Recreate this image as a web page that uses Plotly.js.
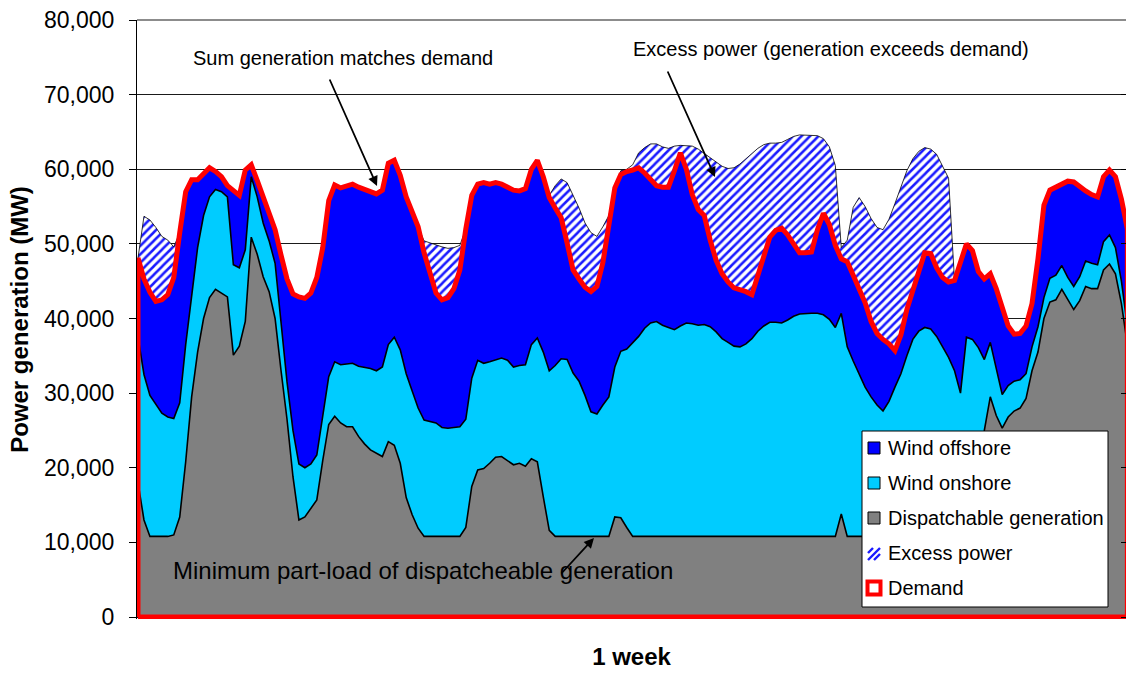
<!DOCTYPE html>
<html><head><meta charset="utf-8">
<script src="https://cdn.plot.ly/plotly-3.0.1.min.js"></script>
<style>html,body{margin:0;padding:0;background:#fff;} #chart{width:1126px;height:674px;}</style>
</head><body><div id="chart"></div>
<script>
// hourly time steps over one week (categories)
const hours = Array.from({length: 167}, (_, i) => i);

const dispatchable = [
18000,13000,10800,10800,10800,10800,11000,13400,20800,29500,
35500,40000,42800,43900,43400,42900,35100,36300,39600,50900,
48600,45600,43600,40000,33000,26500,18800,13000,13400,14500,
15700,21000,25800,26900,26000,25500,25500,24200,23200,22400,
21900,21500,23500,23000,20600,16000,13700,11900,10800,10800,
10800,10800,10800,10800,10800,12000,17500,19700,19900,20600,
21400,21500,20900,20400,20600,20200,21200,20800,16100,11600,
10800,10800,10800,10800,10800,10800,10800,10800,10800,10800,
13400,13300,12000,10800,10800,10800,10800,10800,10800,10800,
10800,10800,10800,10800,10800,10800,10800,10800,10800,10800,
10800,10800,10800,10800,10800,10800,10800,10800,10800,10800,
10800,10800,10800,10800,10800,10800,10800,10800,13800,10800,
10800,10800,10800,10800,10800,10800,10800,10800,10800,10800,
10800,10800,10800,10800,10800,10800,10800,14000,17000,19500,
21500,23000,25000,29500,27000,25300,26800,27600,28000,29300,
33000,35500,40000,42200,42500,43900,42500,41200,42400,44300,
44000,44000,46500,47300,46000,42000,36500];

const windOnshore = [
19500,19500,18900,17700,16500,16000,15600,15300,15700,13500,
14000,13800,13500,13400,13600,13400,12100,10500,9600,8100,
7700,7200,6800,7400,6000,5000,6200,7500,6600,6000,
6000,5800,6400,7300,7800,8400,8500,9400,10300,10900,
11100,12000,13000,14500,15200,16600,16600,16100,15600,15400,
15200,14600,14500,14600,14700,14500,14500,14700,14100,13600,
13100,13200,13500,13100,13100,13600,15300,16600,19400,21400,
22900,23800,23700,21900,20800,18900,16700,16400,17600,18700,
20100,22300,23900,25900,26800,27900,28600,28800,28300,28000,
27700,28200,28600,28500,28300,28400,28100,27400,26500,26000,
25500,25400,25800,26500,27500,28200,28700,28700,28600,29000,
29500,29800,29900,29900,29900,29700,29100,28000,26900,25400,
23500,21800,20000,18700,17600,16800,18100,20000,21800,24200,
26400,27500,28000,27800,26800,25400,24000,19000,13000,18000,
15700,13100,9500,7300,6500,4500,4200,4000,3800,3300,
3200,3400,2800,3200,3300,3200,3000,3100,3200,3400,
3400,3200,3800,3900,3500,3000,2500];

const windOffshore = [
10600,12800,13800,13800,15200,16400,18900,22800,20500,15600,
9100,5600,3900,2400,2000,1500,9900,9700,10700,1600,
2200,3400,3600,4500,9500,13800,18300,22400,22700,22900,
23800,22700,23600,23700,23700,23900,24000,24000,23800,23700,
23700,23700,24300,23700,23400,23700,23900,24300,22400,19600,
17400,17100,17500,18600,21000,25500,24500,23600,24200,23800,
23700,23300,23200,23700,23400,23600,23500,23800,23500,23200,
21100,18900,15600,13800,13700,14500,16100,17100,19100,23300,
24000,23700,23800,23200,22600,20800,19200,18200,18500,18800,
21300,23200,20600,17300,15500,14600,11600,9600,8700,8100,
7800,7700,7000,5900,7600,9300,11400,12300,12700,11400,
9700,8200,8100,8200,11200,13600,12700,11000,7300,11400,
11500,11300,11300,10100,9600,9600,7700,4900,5200,6200,
6600,8100,10000,10100,9200,9300,10100,12100,17500,12500,
11900,10200,10800,9200,10500,11400,8000,6300,6200,6400,
5800,9100,12400,11800,11800,10900,12900,14000,12000,9400,
9200,9100,8700,8700,9500,11000,13000];

const excessPower = [
0,8400,9700,9900,8500,7300,4100,0,0,0,
0,0,0,0,0,0,0,0,0,0,
0,0,0,0,0,0,0,0,0,0,
0,0,0,0,0,0,0,0,0,0,
0,0,0,0,0,0,0,0,1600,4300,
6400,7100,6600,5500,3300,0,0,0,0,0,
0,0,0,0,0,0,0,0,0,300,
3000,5200,8100,10000,9500,8600,7900,6700,4800,1000,
0,500,300,700,2000,3400,4800,5600,5400,5200,
3300,1000,3200,6500,8100,8300,11100,13100,14400,15200,
16100,16800,17800,18900,16900,15000,12600,11700,11500,12800,
14400,15800,15800,15700,12600,10000,10400,10700,1500,2900,
9100,12300,12900,13800,14200,14700,16700,19700,19800,18600,
17600,16000,14100,14000,15200,14800,13900,0,0,0,
0,0,0,0,0,0,0,0,0,0,
0,0,0,0,0,0,0,0,0,0,
0,0,0,0,0,0,0];

const demand = [
48100,45300,43500,42300,42500,43200,45500,51500,57000,58600,
58600,59400,60200,59700,59000,57800,57100,56500,59900,60600,
58500,56200,54000,51900,48500,45300,43300,42900,42700,43400,
45500,49500,55800,57900,57500,57800,58000,57600,57300,57000,
56700,57200,60800,61200,59200,56300,54200,52300,48800,45800,
43400,42500,42800,44000,46500,52000,56500,58000,58200,58000,
58200,58000,57600,57200,57100,57400,60000,61200,59000,56200,
54800,53500,50100,46500,45300,44200,43600,44300,47500,52800,
57500,59300,59700,59900,60200,59500,58600,57800,57600,57600,
59800,62200,60000,56600,54600,53800,50500,47800,46000,44900,
44100,43900,43600,43200,45900,48300,50900,51800,52100,51200,
50000,48800,48800,48900,51900,54100,52600,49800,48000,47600,
45800,43900,42100,39600,38000,37200,36600,35700,37800,41200,
43800,46400,48800,48700,46800,45500,44900,45100,47500,50000,
49100,46300,45300,46000,44000,41200,39000,37900,38000,39000,
42000,48000,55200,57200,57600,58000,58400,58300,57600,57100,
56600,56300,59000,59900,59000,56000,52000];

const yTicks = [0,10000,20000,30000,40000,50000,60000,70000,80000];

const legendItems = ['Wind offshore','Wind onshore','Dispatchable generation','Excess power','Demand'];
const COL = {off:'#0000ff', on:'#00ccff', disp:'#808080', demand:'#ff0000'};

const FONT = 'Liberation Sans, Arial, Helvetica, sans-serif';
const W = 1126, H = 674, ML = 137, MR = 0, MT = 20, MB = 55;
const PW = W - ML - MR, PH = H - MT - MB;
const px = x => (x - ML) / PW;
const py = y => (H - MB - y) / PH;

const lastH = hours[hours.length - 1];

const traces = [
  {name:'Dispatchable generation', x:hours, y:dispatchable, type:'scatter', mode:'lines',
   stackgroup:'gen', fillcolor:COL.disp, line:{color:'#000', width:1.6}, hoverinfo:'skip'},
  {name:'Wind onshore', x:hours, y:windOnshore, type:'scatter', mode:'lines',
   stackgroup:'gen', fillcolor:COL.on, line:{color:'#000', width:1.6}, hoverinfo:'skip'},
  {name:'Wind offshore', x:hours, y:windOffshore, type:'scatter', mode:'lines',
   stackgroup:'gen', fillcolor:COL.off, line:{color:'#000', width:1.2}, hoverinfo:'skip'},
  {name:'Excess power', x:hours, y:excessPower, type:'scatter', mode:'lines',
   stackgroup:'gen', fillcolor:'#ffffff',
   fillpattern:{shape:'/', fgcolor:'#1a1aff', bgcolor:'#ffffff', size:6, solidity:0.42},
   line:{color:'#000', width:0.8}, hoverinfo:'skip'},
  {name:'Demand', x:[0].concat(hours, [lastH, 0]), y:[0].concat(demand, [0, 0]),
   type:'scatter', mode:'lines', yaxis:'y2',
   line:{color:COL.demand, width:5}, hoverinfo:'skip'}
];

const shapes = [];
const annotations = [];

// top border of plot area
shapes.push({type:'line', xref:'paper', yref:'paper', x0:0, x1:1, y0:1, y1:1,
  line:{color:'#8c8c8c', width:2}, layer:'above'});

// legend box
shapes.push({type:'rect', xref:'paper', yref:'paper', x0:px(862), x1:px(1108), y0:py(607), y1:py(431),
  fillcolor:'#ffffff', line:{color:'#000', width:1}, layer:'above'});
const rowY = [448, 483, 518, 553, 588];
const swFill = [COL.off, COL.on, COL.disp];
for (let i = 0; i < 3; i++) {
  shapes.push({type:'rect', xref:'paper', yref:'paper', x0:px(868), x1:px(880),
    y0:py(rowY[i] + 6), y1:py(rowY[i] - 6), fillcolor:swFill[i],
    line:{color:'#000', width:1}, layer:'above'});
}
// hatched swatch
[[868,553,873,548],[868,560,880,548],[874,560,880,554]].forEach(s => {
  shapes.push({type:'line', xref:'paper', yref:'paper', x0:px(s[0]), y0:py(s[1]), x1:px(s[2]), y1:py(s[3]),
    line:{color:'#1a1aff', width:2.4}, layer:'above'});
});
// demand swatch
shapes.push({type:'rect', xref:'paper', yref:'paper', x0:px(867.5), x1:px(880.5), y0:py(594.5), y1:py(581.5),
  fillcolor:'#ffffff', line:{color:COL.demand, width:4}, layer:'above'});

legendItems.forEach((t, i) => {
  annotations.push({xref:'paper', yref:'paper', x:px(886), y:py(rowY[i]), xanchor:'left', yanchor:'middle',
    text:t, showarrow:false, font:{family:FONT, size:20, color:'#000'}});
});

// callout texts
annotations.push({xref:'paper', yref:'paper', x:px(343), y:py(58), xanchor:'center', yanchor:'middle',
  text:'Sum generation matches demand', showarrow:false, font:{family:FONT, size:20, color:'#000'}});
annotations.push({xref:'paper', yref:'paper', x:px(831), y:py(49), xanchor:'center', yanchor:'middle',
  text:'Excess power (generation exceeds demand)', showarrow:false, font:{family:FONT, size:20, color:'#000'}});
annotations.push({xref:'paper', yref:'paper', x:px(423), y:py(570), xanchor:'center', yanchor:'middle',
  text:'Minimum part-load of dispatcheable generation', showarrow:false, font:{family:FONT, size:24, color:'#000'}});

// arrows
[[377,186,-48,-108],[715,177,-48,-107],[594,538,-34,37]].forEach(a => {
  annotations.push({xref:'paper', yref:'paper', x:px(a[0]), y:py(a[1]), ax:a[2], ay:a[3],
    text:'', showarrow:true, arrowhead:2, arrowsize:1.1, arrowwidth:1.8, arrowcolor:'#000', standoff:0});
});

const layout = {
  width:W, height:H,
  margin:{l:ML, r:MR, t:MT, b:MB, pad:0},
  paper_bgcolor:'#ffffff', plot_bgcolor:'#ffffff',
  font:{family:FONT, color:'#000', size:20},
  showlegend:false,
  xaxis:{range:[-0.17, 165.77], showticklabels:false, ticks:'', showgrid:false, zeroline:false, showline:false,
    fixedrange:true,
    title:{text:'<b>1 week</b>', font:{family:FONT, size:24, color:'#000'}, standoff:29}},
  yaxis:{range:[-268, 80000], tickvals:yTicks, tickformat:',d', ticks:'outside', ticklen:7, tickcolor:'#000',
    tickwidth:1, showline:true, linecolor:'#000', linewidth:1, showgrid:true, gridcolor:'#1a1a1a', gridwidth:1,
    zeroline:false, tickfont:{family:FONT, size:23, color:'#000'}, ticklabelstandoff:10, fixedrange:true,
    title:{text:'<b>Power generation (MW)</b>', font:{family:FONT, size:24, color:'#000'}, standoff:8}},
  yaxis2:{overlaying:'y', side:'right', range:[-268, 80000], tickvals:yTicks, ticks:'inside', ticklen:5,
    tickcolor:'#000', showticklabels:false, showgrid:false, zeroline:false, showline:false, fixedrange:true},
  shapes:shapes,
  annotations:annotations
};

Plotly.newPlot('chart', traces, layout, {displayModeBar:false, staticPlot:true});
</script>
</body></html>
